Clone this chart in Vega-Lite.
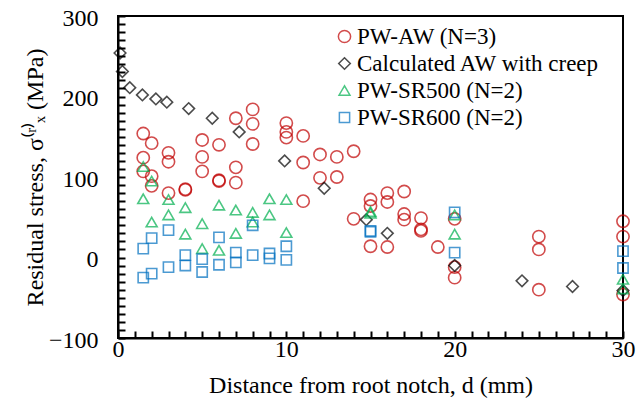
{
  "$schema": "https://vega.github.io/schema/vega-lite/v6.json",
  "width": 505,
  "height": 322,
  "autosize": {"type": "none"},
  "padding": {"left": 118, "top": 16, "right": 20, "bottom": 76},
  "config": {
    "font": "Liberation Serif",
    "view": {"stroke": "black", "strokeWidth": 2},
    "legend": {"labelFont": "Liberation Serif", "labelFontSize": 23, "labelColor": "black"},
    "axis": {
      "grid": false,
      "labelColor": "black",
      "labelFontSize": 24,
      "labelFont": "Liberation Serif",
      "titleFont": "Liberation Serif",
      "titleFontSize": 24,
      "titleFontWeight": "normal",
      "titleColor": "black"
    }
  },
  "data": {
    "values": [
      {"s": "PW-AW (N=3)", "d": 1.5, "v": 154}, {"s": "PW-AW (N=3)", "d": 1.5, "v": 124}, {"s": "PW-AW (N=3)", "d": 1.5, "v": 107},
      {"s": "PW-AW (N=3)", "d": 2, "v": 142}, {"s": "PW-AW (N=3)", "d": 2, "v": 101}, {"s": "PW-AW (N=3)", "d": 2, "v": 89},
      {"s": "PW-AW (N=3)", "d": 3, "v": 130}, {"s": "PW-AW (N=3)", "d": 3, "v": 119}, {"s": "PW-AW (N=3)", "d": 3, "v": 80},
      {"s": "PW-AW (N=3)", "d": 4, "v": 84}, {"s": "PW-AW (N=3)", "d": 4, "v": 85},
      {"s": "PW-AW (N=3)", "d": 5, "v": 146}, {"s": "PW-AW (N=3)", "d": 5, "v": 125}, {"s": "PW-AW (N=3)", "d": 5, "v": 107},
      {"s": "PW-AW (N=3)", "d": 6, "v": 140}, {"s": "PW-AW (N=3)", "d": 6, "v": 96}, {"s": "PW-AW (N=3)", "d": 6, "v": 95},
      {"s": "PW-AW (N=3)", "d": 7, "v": 173}, {"s": "PW-AW (N=3)", "d": 7, "v": 112}, {"s": "PW-AW (N=3)", "d": 7, "v": 93},
      {"s": "PW-AW (N=3)", "d": 8, "v": 184}, {"s": "PW-AW (N=3)", "d": 8, "v": 166}, {"s": "PW-AW (N=3)", "d": 8, "v": 141},
      {"s": "PW-AW (N=3)", "d": 10, "v": 167}, {"s": "PW-AW (N=3)", "d": 10, "v": 156}, {"s": "PW-AW (N=3)", "d": 10, "v": 149},
      {"s": "PW-AW (N=3)", "d": 11, "v": 151}, {"s": "PW-AW (N=3)", "d": 11, "v": 118}, {"s": "PW-AW (N=3)", "d": 11, "v": 70},
      {"s": "PW-AW (N=3)", "d": 12, "v": 128}, {"s": "PW-AW (N=3)", "d": 12, "v": 99},
      {"s": "PW-AW (N=3)", "d": 13, "v": 125}, {"s": "PW-AW (N=3)", "d": 13, "v": 100},
      {"s": "PW-AW (N=3)", "d": 14, "v": 132}, {"s": "PW-AW (N=3)", "d": 14, "v": 48},
      {"s": "PW-AW (N=3)", "d": 15, "v": 72}, {"s": "PW-AW (N=3)", "d": 15, "v": 64}, {"s": "PW-AW (N=3)", "d": 15, "v": 14},
      {"s": "PW-AW (N=3)", "d": 16, "v": 80}, {"s": "PW-AW (N=3)", "d": 16, "v": 69}, {"s": "PW-AW (N=3)", "d": 16, "v": 13},
      {"s": "PW-AW (N=3)", "d": 17, "v": 82}, {"s": "PW-AW (N=3)", "d": 17, "v": 54}, {"s": "PW-AW (N=3)", "d": 17, "v": 47},
      {"s": "PW-AW (N=3)", "d": 18, "v": 49}, {"s": "PW-AW (N=3)", "d": 18, "v": 35}, {"s": "PW-AW (N=3)", "d": 18, "v": 33},
      {"s": "PW-AW (N=3)", "d": 19, "v": 13},
      {"s": "PW-AW (N=3)", "d": 20, "v": 48}, {"s": "PW-AW (N=3)", "d": 20, "v": -12}, {"s": "PW-AW (N=3)", "d": 20, "v": -25},
      {"s": "PW-AW (N=3)", "d": 25, "v": 26}, {"s": "PW-AW (N=3)", "d": 25, "v": 10}, {"s": "PW-AW (N=3)", "d": 25, "v": -40},
      {"s": "PW-AW (N=3)", "d": 30, "v": 45}, {"s": "PW-AW (N=3)", "d": 30, "v": 26}, {"s": "PW-AW (N=3)", "d": 30, "v": -46},

      {"s": "Calculated AW with creep", "d": 0.12, "v": 254},
      {"s": "Calculated AW with creep", "d": 0.26, "v": 231},
      {"s": "Calculated AW with creep", "d": 0.7, "v": 211},
      {"s": "Calculated AW with creep", "d": 1.45, "v": 202},
      {"s": "Calculated AW with creep", "d": 2.25, "v": 197},
      {"s": "Calculated AW with creep", "d": 2.9, "v": 193},
      {"s": "Calculated AW with creep", "d": 4.2, "v": 185},
      {"s": "Calculated AW with creep", "d": 5.6, "v": 173},
      {"s": "Calculated AW with creep", "d": 7.2, "v": 156},
      {"s": "Calculated AW with creep", "d": 9.9, "v": 120},
      {"s": "Calculated AW with creep", "d": 12.25, "v": 86},
      {"s": "Calculated AW with creep", "d": 14.75, "v": 47},
      {"s": "Calculated AW with creep", "d": 16, "v": 30},
      {"s": "Calculated AW with creep", "d": 20, "v": -10},
      {"s": "Calculated AW with creep", "d": 24, "v": -29},
      {"s": "Calculated AW with creep", "d": 27, "v": -36},
      {"s": "Calculated AW with creep", "d": 30, "v": -41},

      {"s": "PW-SR500 (N=2)", "d": 1.5, "v": 113}, {"s": "PW-SR500 (N=2)", "d": 1.5, "v": 73},
      {"s": "PW-SR500 (N=2)", "d": 2, "v": 95}, {"s": "PW-SR500 (N=2)", "d": 2, "v": 44},
      {"s": "PW-SR500 (N=2)", "d": 3, "v": 72}, {"s": "PW-SR500 (N=2)", "d": 3, "v": 53},
      {"s": "PW-SR500 (N=2)", "d": 4, "v": 62}, {"s": "PW-SR500 (N=2)", "d": 4, "v": 29},
      {"s": "PW-SR500 (N=2)", "d": 5, "v": 42}, {"s": "PW-SR500 (N=2)", "d": 5, "v": 11},
      {"s": "PW-SR500 (N=2)", "d": 6, "v": 65}, {"s": "PW-SR500 (N=2)", "d": 6, "v": 9},
      {"s": "PW-SR500 (N=2)", "d": 7, "v": 59}, {"s": "PW-SR500 (N=2)", "d": 7, "v": 30},
      {"s": "PW-SR500 (N=2)", "d": 8, "v": 56}, {"s": "PW-SR500 (N=2)", "d": 8, "v": 44},
      {"s": "PW-SR500 (N=2)", "d": 9, "v": 73}, {"s": "PW-SR500 (N=2)", "d": 9, "v": 53},
      {"s": "PW-SR500 (N=2)", "d": 10, "v": 72}, {"s": "PW-SR500 (N=2)", "d": 10, "v": 31},
      {"s": "PW-SR500 (N=2)", "d": 15, "v": 57}, {"s": "PW-SR500 (N=2)", "d": 15, "v": 55},
      {"s": "PW-SR500 (N=2)", "d": 20, "v": 53}, {"s": "PW-SR500 (N=2)", "d": 20, "v": 29},
      {"s": "PW-SR500 (N=2)", "d": 30, "v": -27}, {"s": "PW-SR500 (N=2)", "d": 30, "v": -39},

      {"s": "PW-SR600 (N=2)", "d": 1.5, "v": 11}, {"s": "PW-SR600 (N=2)", "d": 1.5, "v": -25},
      {"s": "PW-SR600 (N=2)", "d": 2, "v": 24}, {"s": "PW-SR600 (N=2)", "d": 2, "v": -20},
      {"s": "PW-SR600 (N=2)", "d": 3, "v": 34}, {"s": "PW-SR600 (N=2)", "d": 3, "v": -12},
      {"s": "PW-SR600 (N=2)", "d": 4, "v": 3}, {"s": "PW-SR600 (N=2)", "d": 4, "v": -10},
      {"s": "PW-SR600 (N=2)", "d": 5, "v": -2}, {"s": "PW-SR600 (N=2)", "d": 5, "v": -18},
      {"s": "PW-SR600 (N=2)", "d": 6, "v": 25}, {"s": "PW-SR600 (N=2)", "d": 6, "v": -9},
      {"s": "PW-SR600 (N=2)", "d": 7, "v": 6}, {"s": "PW-SR600 (N=2)", "d": 7, "v": -6},
      {"s": "PW-SR600 (N=2)", "d": 8, "v": 40}, {"s": "PW-SR600 (N=2)", "d": 8, "v": 3},
      {"s": "PW-SR600 (N=2)", "d": 9, "v": 5}, {"s": "PW-SR600 (N=2)", "d": 9, "v": -1},
      {"s": "PW-SR600 (N=2)", "d": 10, "v": 14}, {"s": "PW-SR600 (N=2)", "d": 10, "v": -3},
      {"s": "PW-SR600 (N=2)", "d": 15, "v": 32}, {"s": "PW-SR600 (N=2)", "d": 15, "v": 33},
      {"s": "PW-SR600 (N=2)", "d": 20, "v": 56}, {"s": "PW-SR600 (N=2)", "d": 20, "v": 6},
      {"s": "PW-SR600 (N=2)", "d": 30, "v": 8}, {"s": "PW-SR600 (N=2)", "d": 30, "v": -13}
    ]
  },
  "mark": {"type": "point", "filled": false, "strokeWidth": 1.6, "clip": false},
  "encoding": {
    "x": {
      "field": "d", "type": "quantitative",
      "scale": {"domain": [0, 30], "nice": false, "zero": false},
      "axis": {
        "title": "Distance from root notch, d (mm)",
        "tickCount": 30,
        "labelOpacity": {"condition": {"test": "datum.value % 10 !== 0", "value": 0}, "value": 1},
        "labelFlush": false,
        "labelOverlap": false,
        "domainColor": "black",
        "domainWidth": 2,
        "tickSize": -7,
        "tickColor": "#000000",
        "tickWidth": 2,
        "labelPadding": 6,
        "titlePadding": 12
      }
    },
    "y": {
      "field": "v", "type": "quantitative",
      "scale": {"domain": [-100, 300], "nice": false, "zero": false},
      "axis": {
        "title": "Residual stress, σ⁽ʳ⁾ₓ (MPa)",
        "tickCount": 40,
        "labelOpacity": {"condition": {"test": "datum.value % 100 !== 0", "value": 0}, "value": 1},
        "labelOverlap": false,
        "domainColor": "black",
        "domainWidth": 2,
        "tickSize": -7,
        "tickColor": "#000000",
        "tickWidth": 2,
        "labelOffset": 2,
        "labelPadding": 27,
        "titlePadding": 1
      }
    },
    "color": {
      "field": "s", "type": "nominal",
      "scale": {
        "domain": ["PW-AW (N=3)", "Calculated AW with creep", "PW-SR500 (N=2)", "PW-SR600 (N=2)"],
        "range": ["#C00000", "#000000", "#00B050", "#0070C0"]
      },
      "legend": {
        "orient": "none", "legendX": 215, "legendY": 9, "title": null,
        "labelFontSize": 23, "labelFont": "Liberation Serif", "labelColor": "black",
        "symbolSize": 130, "symbolStrokeWidth": 1.5, "rowPadding": 3, "labelOffset": 1,
        "labelLimit": 400
      }
    },
    "shape": {
      "field": "s", "type": "nominal",
      "scale": {
        "domain": ["PW-AW (N=3)", "Calculated AW with creep", "PW-SR500 (N=2)", "PW-SR600 (N=2)"],
        "range": ["circle", "diamond", "triangle-up", "square"]
      }
    },
    "size": {
      "field": "s", "type": "nominal",
      "scale": {
        "domain": ["PW-AW (N=3)", "Calculated AW with creep", "PW-SR500 (N=2)", "PW-SR600 (N=2)"],
        "range": [150, 105, 210, 130]
      },
      "legend": null
    }
  }
}
